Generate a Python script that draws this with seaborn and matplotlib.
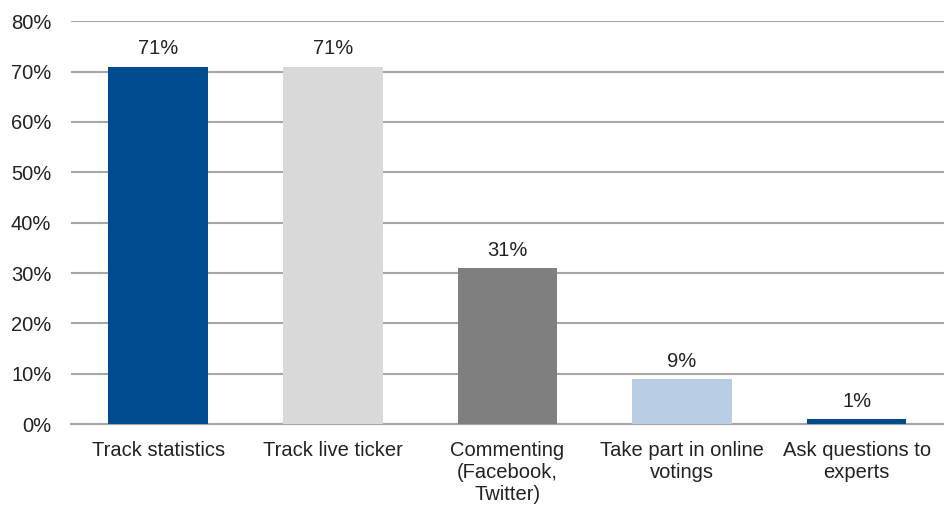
import matplotlib
matplotlib.use('Agg')
import pandas as pd
import seaborn as sns
import matplotlib.pyplot as plt
from matplotlib.ticker import PercentFormatter

# Datos de la encuesta (porcentaje de usuarios)
categorias = ['Track statistics', 'Track live ticker', 'Commenting\n(Facebook,\nTwitter)',
              'Take part in online\nvotings', 'Ask questions to\nexperts']
valores = [71, 71, 31, 9, 1]
colores = ['#004A8F', '#D9D9D9', '#7F7F7F', '#B9CDE5', '#004A8F']

datos = pd.DataFrame({'categoria': categorias, 'valor': valores})

sns.set_style('white')
plt.rcParams['font.family'] = ['Liberation Sans', 'DejaVu Sans']

fig = plt.figure(figsize=(9.44, 5.05), dpi=100)
ax = fig.add_axes([0.075, 0.16, 0.925, 0.798])

sns.barplot(x='categoria', y='valor', hue='categoria', data=datos, palette=colores,
            width=0.57, legend=False, saturation=1, linewidth=0, ax=ax, zorder=3)

ax.set_ylim(0, 80)
ax.set_yticks(range(0, 81, 10))
ax.yaxis.set_major_formatter(PercentFormatter(decimals=0))
ax.grid(axis='y', color='#A6A6A6', linewidth=1.5, zorder=0)
ax.set_axisbelow(True)

for lado in ['top', 'right', 'left']:
    ax.spines[lado].set_visible(False)
ax.spines['bottom'].set_color('#A6A6A6')
ax.spines['bottom'].set_linewidth(1.5)

ax.tick_params(axis='y', left=False, length=0, pad=14, labelsize=14.5, labelcolor='#222222')
ax.tick_params(axis='x', bottom=False, length=0, pad=12, labelsize=14.5, labelcolor='#222222')
ax.set_xlabel('')
ax.set_ylabel('')

# Etiquetas de valor sobre cada barra
for cont in ax.containers:
    ax.bar_label(cont, fmt='%d%%', padding=6, fontsize=14.5, color='#222222')

fig.savefig('out.png', dpi=100)
